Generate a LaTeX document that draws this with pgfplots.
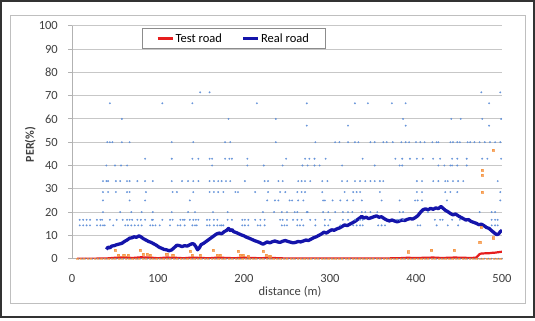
\documentclass[border=0pt]{standalone}
\usepackage{pgfplots}
\pgfplotsset{compat=1.18}
\usepackage{fontspec}
\setmainfont{Carlito}
\definecolor{ptblue}{RGB}{90,140,215}
\definecolor{ptzero}{RGB}{120,130,160}
\definecolor{ptorange}{RGB}{245,145,60}
\definecolor{realblue}{RGB}{20,20,170}
\definecolor{testred}{RGB}{230,30,30}
\definecolor{txt}{RGB}{64,64,64}
\begin{document}
\begin{tikzpicture}[x=1pt,y=1pt]
\useasboundingbox (0,0) rectangle (535,321);
\fill[white] (0,0) rectangle (535,321);
\draw[line width=1.5pt, black!80] (1,4) rectangle (534,320);
\draw[line width=0.8pt, black!25] (10,18) rectangle (525,306);
\begin{axis}[
  at={(72pt,62.3pt)}, anchor=south west,
  scale only axis, width=430pt, height=233pt,
  xmin=0, xmax=500, ymin=0, ymax=100,
  xtick={0,100,...,500}, ytick={0,10,...,100},
  axis lines*=left, axis line style={-, draw=black!30, line width=0.8pt},
  ymajorgrids, major grid style={draw=black!22, line width=0.8pt},
  tick align=outside, major tick length=4pt,
  ytick style={draw=black!30, line width=0.8pt},
  xtick style={draw=none},
  /pgf/number format/assume math mode=true,
  tick label style={font=\fontsize{12.5}{15}\selectfont, text=txt},
  yticklabel style={inner sep=0pt, anchor=east, xshift=-10pt},
  xticklabel style={inner sep=0pt, anchor=north, yshift=-11pt},
  xlabel={distance (m)},
  xlabel style={at={(axis description cs:0.507,-0.143)}, anchor=center, font=\fontsize{12.5}{15}\selectfont, text=txt},
  ylabel={\textbf{PER(\%)}},
  ylabel style={at={(axis description cs:-0.097,0.49)}, anchor=center, font=\fontsize{12}{15}\selectfont, text=txt},
  legend columns=2,
  legend style={at={(rel axis cs:0.163,0.99)}, anchor=north west, draw=black!45, line width=0.8pt,
    font=\fontsize{12.5}{15}\selectfont, inner xsep=14pt, inner ysep=3pt,
    /tikz/every even column/.append style={column sep=18pt}},
  legend image code/.code={\draw[#1, line width=2.2pt] (0pt,0pt) -- (15pt,0pt);},
]
% Real road samples (blue points)
\addplot[only marks, mark=*, mark size=0.75pt, color=ptblue, opacity=0.8, forget plot] coordinates {
(149,71.4)(160,71.4)(476,71.4)(498,71.4)
(44,66.7)(105,66.7)(140,66.7)(215,66.7)(273,66.7)(329,66.7)(344,66.7)(372,66.7)(388,66.7)(485,66.7)
(58,60)(182,60)(237,60)(385,60)(441,60)(452,60)(477,60)(499,60)
(273,57.1)(321,57.1)(388,57.1)(485,57.1)
(41,50)(44,50)(47,50)(58,50)(67,50)(116,50)(141,50)(178,50)(184,50)(237,50)(283,50)(306,50)(311,50)(321,50)(329,50)(333,50)(347,50)(352,50)(362,50)(366,50)(373,50)(383,50)(388,50)(392,50)(400,50)(405,50)(410,50)(419,50)(424,50)(426,50)(440,50)(443,50)(448,50)(451,50)(460,50)(463,50)(468,50)(474,50)(480,50)(486,50)(492,50)(498,50)
(85,42.9)(116,42.9)(140,42.9)(147,42.9)(160,42.9)(163,42.9)(178,42.9)(183,42.9)(186,42.9)(204,42.9)(249,42.9)(271,42.9)(276,42.9)(282,42.9)(295,42.9)(338,42.9)(376,42.9)(384,42.9)(393,42.9)(401,42.9)(408,42.9)(420,42.9)(428,42.9)(442,42.9)(448,42.9)(459,42.9)(477,42.9)(483,42.9)(499,42.9)
(40,40)(50,40)(57,40)(64,40)(163,40)(204,40)(223,40)(245,40)(268,40)(274,40)(282,40)(288,40)(314,40)(352,40)(381,40)(384,40)(426,40)(433,40)(440,40)(442,40)(448,40)(459,40)
(36,33.3)(40,33.3)(42,33.3)(51,33.3)(56,33.3)(64,33.3)(67,33.3)(76,33.3)(85,33.3)(94,33.3)(116,33.3)(128,33.3)(135,33.3)(141,33.3)(147,33.3)(160,33.3)(165,33.3)(170,33.3)(174,33.3)(179,33.3)(184,33.3)(201,33.3)(224,33.3)(228,33.3)(240,33.3)(245,33.3)(263,33.3)(267,33.3)(271,33.3)(277,33.3)(291,33.3)(297,33.3)(314,33.3)(320,33.3)(329,33.3)(335,33.3)(341,33.3)(347,33.3)(352,33.3)(358,33.3)(362,33.3)(401,33.3)(407,33.3)(420,33.3)(426,33.3)(434,33.3)(437,33.3)(443,33.3)(449,33.3)(455,33.3)(495,33.3)
(36,28.6)(42,28.6)(51,28.6)(64,28.6)(67,28.6)(86,28.6)(117,28.6)(122,28.6)(141,28.6)(160,28.6)(165,28.6)(170,28.6)(176,28.6)(190,28.6)(193,28.6)(213,28.6)(228,28.6)(242,28.6)(248,28.6)(262,28.6)(267,28.6)(271,28.6)(291,28.6)(317,28.6)(327,28.6)(331,28.6)(335,28.6)(358,28.6)(401,28.6)(407,28.6)(434,28.6)(440,28.6)(448,28.6)(498,28.6)
(36,25)(67,25)(85,25)(137,25)(227,25)(236,25)(240,25)(253,25)(256,25)(263,25)(269,25)(292,25)(294,25)(303,25)(312,25)(320,25)(327,25)(337,25)(360,25)(381,25)(399,25)(402,25)(407,25)(436,25)(498,25)
(36,20)(56,20)(69,20)(81,20)(94,20)(116,20)(135,20)(143,20)(164,20)(181,20)(222,20)(235,20)(244,20)(250,20)(259,20)(262,20)(273,20)(274,20)(292,20)(298,20)(306,20)(315,20)(321,20)(326,20)(337,20)(341,20)(347,20)(355,20)(381,20)(385,20)(414,20)(474,20)(488,20)(492,20)
(9,16.7)(13,16.7)(17,16.7)(21,16.7)(29,16.7)(33,16.7)(35,16.7)(44,16.7)(52,16.7)(59,16.7)(64,16.7)(67,16.7)(70,16.7)(76,16.7)(80,16.7)(85,16.7)(93,16.7)(94,16.7)(105,16.7)(114,16.7)(117,16.7)(126,16.7)(129,16.7)(131,16.7)(137,16.7)(141,16.7)(144,16.7)(147,16.7)(157,16.7)(160,16.7)(165,16.7)(169,16.7)(181,16.7)(186,16.7)(198,16.7)(201,16.7)(205,16.7)(213,16.7)(219,16.7)(224,16.7)(242,16.7)(245,16.7)(250,16.7)(257,16.7)(262,16.7)(267,16.7)(277,16.7)(283,16.7)(294,16.7)(300,16.7)(315,16.7)(321,16.7)(329,16.7)(335,16.7)(338,16.7)(378,16.7)(381,16.7)(385,16.7)(422,16.7)(428,16.7)(431,16.7)(442,16.7)(451,16.7)(488,16.7)(492,16.7)(495,16.7)
(9,14.3)(13,14.3)(17,14.3)(21,14.3)(29,14.3)(33,14.3)(36,14.3)(38,14.3)(48,14.3)(62,14.3)(65,14.3)(69,14.3)(73,14.3)(77,14.3)(81,14.3)(91,14.3)(94,14.3)(97,14.3)(102,14.3)(114,14.3)(123,14.3)(126,14.3)(131,14.3)(140,14.3)(143,14.3)(145,14.3)(157,14.3)(160,14.3)(165,14.3)(169,14.3)(172,14.3)(174,14.3)(176,14.3)(198,14.3)(201,14.3)(205,14.3)(216,14.3)(219,14.3)(224,14.3)(244,14.3)(247,14.3)(250,14.3)(262,14.3)(265,14.3)(269,14.3)(283,14.3)(294,14.3)(298,14.3)(312,14.3)(327,14.3)(331,14.3)(335,14.3)(338,14.3)(356,14.3)(360,14.3)(364,14.3)(402,14.3)(405,14.3)(424,14.3)(437,14.3)(449,14.3)(488,14.3)(492,14.3)(495,14.3)
};
% Real road samples at zero
\addplot[only marks, mark=*, mark size=0.7pt, color=ptzero, opacity=0.7, forget plot] coordinates {
(8,0)(12,0)(16,0)(20,0)(24,0)(28,0)(32,0)(36,0)(40,0)(44,0)(48,0)(52,0)(56,0)(60,0)(64,0)(68,0)(72,0)(76,0)(80,0)(84,0)(88,0)(92,0)(96,0)(100,0)(104,0)(108,0)(112,0)(116,0)(120,0)(124,0)(128,0)(132,0)(136,0)(140,0)(144,0)(148,0)(152,0)(156,0)(160,0)(164,0)(168,0)(172,0)(176,0)(180,0)(184,0)(188,0)(192,0)(196,0)(200,0)(204,0)(208,0)(212,0)(216,0)(220,0)(224,0)(228,0)(232,0)(236,0)(240,0)(244,0)(248,0)(252,0)(256,0)(260,0)(264,0)(268,0)(272,0)(276,0)(280,0)(284,0)(288,0)(292,0)(296,0)(300,0)(304,0)(308,0)(312,0)(316,0)(320,0)(324,0)(328,0)(332,0)(336,0)(340,0)(344,0)(348,0)(352,0)(356,0)(360,0)(364,0)(368,0)(372,0)(376,0)(380,0)(384,0)(388,0)(392,0)(396,0)(400,0)(404,0)(408,0)(412,0)(416,0)(420,0)(424,0)(428,0)(432,0)(436,0)(440,0)(444,0)(448,0)(452,0)(456,0)(460,0)(464,0)(468,0)(472,0)(476,0)(480,0)(484,0)(488,0)(492,0)(496,0)(500,0)
};
% Test road samples (orange points)
\addplot[only marks, mark=square*, mark size=1.1pt, color=ptorange, opacity=0.75, forget plot] coordinates {
(50,3.7)(54,1.6)(60,1.6)(65,1.6)(79,3.7)(83,2)(87,2)(91,1.5)(110,2)(117,1.5)(137,3.2)(140,1.5)(149,1.5)(164,3.7)(169,1.5)(172,1.5)(193,3.3)(196,1.5)(199,1.5)(205,1)(222,3.3)(226,1.5)(230,1)(391,3)(418,3.7)(444,3.7)(474,7)(490,9)(476,13.5)(477,28.6)(477,36)(477,38)(490,46.5)
};
% Test road samples at zero
\addplot[only marks, mark=square*, mark size=0.6pt, color=ptorange, opacity=0.6, forget plot] coordinates {
(6,0)(10,0)(14,0)(18,0)(22,0)(26,0)(30,0)(34,0)(38,0)(42,0)(46,0)(50,0)(54,0)(58,0)(62,0)(66,0)(70,0)(74,0)(78,0)(82,0)(86,0)(90,0)(94,0)(98,0)(102,0)(106,0)(110,0)(114,0)(118,0)(122,0)(126,0)(130,0)(134,0)(138,0)(142,0)(146,0)(150,0)(154,0)(158,0)(162,0)(166,0)(170,0)(174,0)(178,0)(182,0)(186,0)(190,0)(194,0)(198,0)(202,0)(206,0)(210,0)(214,0)(218,0)(222,0)(226,0)(230,0)(234,0)(238,0)(242,0)(246,0)(250,0)(254,0)(258,0)(262,0)(266,0)(270,0)(274,0)(278,0)(282,0)(286,0)(290,0)(294,0)(298,0)(302,0)(306,0)(310,0)(314,0)(318,0)(322,0)(326,0)(330,0)(334,0)(338,0)(342,0)(346,0)(350,0)(354,0)(358,0)(362,0)(366,0)(370,0)(374,0)(378,0)(382,0)(386,0)(390,0)(394,0)(398,0)(402,0)(406,0)(410,0)(414,0)(418,0)(422,0)(426,0)(430,0)(434,0)(438,0)(442,0)(446,0)(450,0)(454,0)(458,0)(462,0)(466,0)(470,0)(474,0)(478,0)(482,0)(486,0)(490,0)(494,0)(498,0)
};
% Test road (moving average)
\addplot[testred, line width=2.2pt, line join=round] coordinates {
(6,0)(20,0)(40,0.1)(50,0.4)(60,0.6)(70,0.3)(80,0.6)(90,0.5)(100,0.2)(110,0.5)(120,0.4)(130,0.2)(140,0.5)(150,0.3)(160,0.2)(170,0.5)(180,0.3)(190,0.2)(200,0.5)(210,0.3)(220,0.2)(230,0.4)(240,0.2)(250,0.1)(260,0.1)(280,0.1)(300,0.1)(320,0.1)(340,0.1)(360,0.1)(380,0.2)(390,0.4)(400,0.3)(420,0.5)(430,0.3)(445,0.5)(455,0.4)(465,0.3)(470,0.5)(472,1.2)(474,2.0)(476,2.2)(480,2.3)(484,2.3)(488,2.5)(492,2.6)(496,2.8)(500,3.0)
};
\addlegendentry{Test road}
% Real road (moving average)
\addplot[realblue, line width=3.3pt, line join=round] coordinates {
(40,4.0)(42,5.0)(44,4.6)(46,5.4)(49,5.6)(52,6.0)(55,6.3)(58,6.6)(61,7.4)(64,8.0)(67,8.8)(70,9.0)(72,9.4)(75,9.2)(78,9.8)(80,9.4)(83,8.6)(86,8.0)(89,7.4)(92,7.0)(95,6.4)(98,5.8)(101,5.0)(104,4.5)(107,4.0)(110,3.8)(113,3.4)(116,3.8)(119,4.8)(122,5.8)(125,5.6)(128,5.2)(131,5.6)(134,5.4)(137,6.0)(140,6.5)(142,6.2)(144,5.2)(146,3.8)(148,4.6)(150,6.0)(153,6.6)(156,7.4)(159,8.2)(162,9.0)(165,9.8)(168,10.6)(171,11.0)(174,10.7)(177,11.6)(180,12.2)(182,13.0)(184,12.0)(186,12.5)(188,11.6)(191,11.2)(194,10.7)(197,10.2)(200,9.8)(203,9.2)(206,8.8)(209,8.3)(212,7.8)(215,7.4)(218,7.0)(220,6.6)(222,6.2)(224,6.6)(227,7.2)(230,6.8)(233,7.3)(236,7.6)(239,7.2)(242,7.0)(245,7.5)(248,7.8)(251,7.4)(254,7.1)(257,6.8)(260,7.0)(263,7.4)(266,7.2)(269,7.6)(272,8.0)(275,7.8)(278,8.4)(281,9.0)(284,9.4)(287,10.0)(290,10.6)(293,11.4)(296,11.0)(299,11.8)(302,12.4)(305,12.2)(308,12.8)(311,13.2)(314,13.8)(317,14.5)(320,14.2)(323,14.8)(326,15.4)(329,16.0)(332,16.8)(335,17.6)(337,18.2)(339,17.4)(342,17.8)(345,17.2)(348,17.6)(351,18.0)(354,18.4)(357,17.8)(360,18.0)(363,17.2)(366,16.6)(369,16.2)(372,16.6)(375,16.2)(378,15.8)(381,16.2)(384,16.6)(387,16.4)(390,16.9)(393,17.2)(396,17.0)(399,17.6)(402,18.4)(405,19.8)(408,21.0)(411,21.4)(414,21.0)(417,21.6)(420,21.2)(423,21.8)(426,21.5)(429,22.4)(431,21.8)(434,20.8)(437,20.2)(440,19.4)(443,18.8)(446,19.2)(449,18.4)(452,17.8)(455,17.2)(458,16.6)(461,16.8)(464,16.0)(467,15.6)(470,15.2)(473,14.6)(476,14.8)(479,14.2)(482,13.4)(485,13.0)(488,12.0)(490,11.4)(492,10.8)(494,10.3)(496,10.6)(498,11.6)(500,12.2)
};
\addlegendentry{Real road}
\end{axis}
\end{tikzpicture}
\end{document}
